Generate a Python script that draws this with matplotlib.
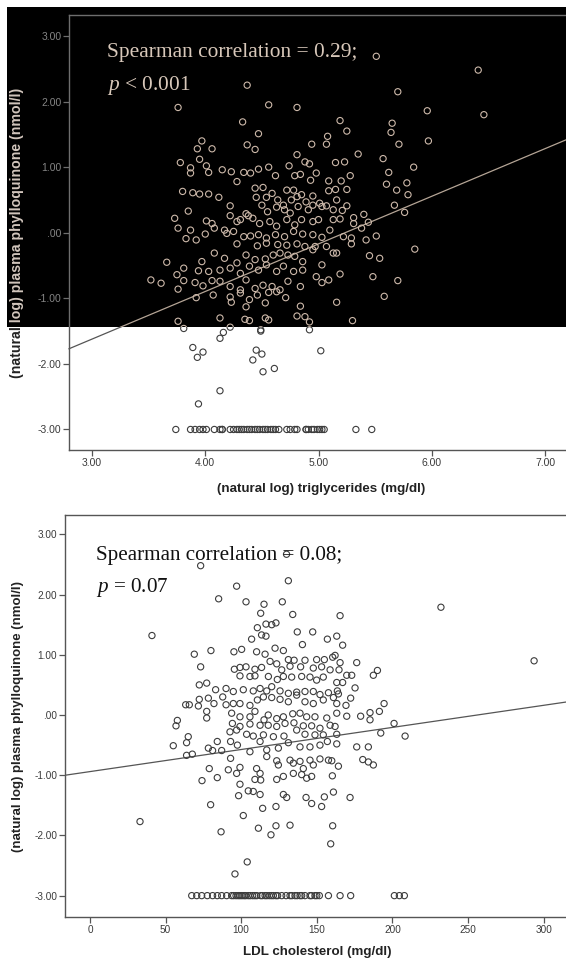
import matplotlib
matplotlib.use("Agg")
import matplotlib.pyplot as plt
from matplotlib.patches import Rectangle
import numpy as np

plt.rcParams['font.family'] = 'Liberation Sans'
plt.rcParams['mathtext.fontset'] = 'custom'
plt.rcParams['mathtext.it'] = 'Liberation Serif:italic'
plt.rcParams['mathtext.rm'] = 'Liberation Serif'

# ---- top panel: ln(triglycerides) vs ln(phylloquinone) ----
tg_pts = [
    (3.76, 1.91), (4.56, 1.95), (4.81, 1.91), (5.70, 2.15), (4.33, 1.69), (5.19, 1.71), (5.65, 1.67),
    (4.47, 1.51), (5.25, 1.55), (5.64, 1.53), (5.08, 1.47), (3.97, 1.40), (4.37, 1.34), (4.44, 1.27),
    (4.94, 1.35), (5.07, 1.35), (5.71, 1.35), (3.93, 1.28), (4.06, 1.28), (4.81, 1.19), (5.35, 1.20),
    (3.78, 1.07), (3.95, 1.12), (4.88, 1.08), (4.92, 1.05), (5.15, 1.07), (5.23, 1.08), (5.57, 1.13),
    (5.84, 1.00), (3.87, 0.99), (4.01, 1.02), (4.15, 0.96), (4.23, 0.93), (4.34, 0.92), (4.40, 0.91),
    (4.47, 0.97), (4.56, 1.00), (4.62, 0.87), (4.74, 1.02), (4.79, 0.87), (4.84, 0.89), (4.93, 0.80),
    (4.98, 0.91), (5.09, 0.79), (5.20, 0.79), (5.28, 0.87), (5.62, 0.92), (3.87, 0.91), (4.03, 0.92),
    (4.28, 0.78), (5.78, 0.76), (5.60, 0.74), (3.80, 0.63), (3.89, 0.61), (3.95, 0.59), (4.03, 0.59),
    (4.12, 0.54), (4.44, 0.68), (4.51, 0.69), (4.59, 0.60), (4.72, 0.65), (4.78, 0.65), (4.85, 0.58),
    (4.95, 0.56), (5.01, 0.45), (5.09, 0.64), (5.15, 0.66), (5.25, 0.66), (5.69, 0.65), (5.79, 0.58),
    (4.22, 0.41), (4.45, 0.54), (4.54, 0.54), (4.64, 0.50), (4.69, 0.42), (4.76, 0.50), (4.81, 0.55),
    (4.89, 0.47), (4.95, 0.42), (5.07, 0.41), (5.16, 0.50), (5.25, 0.41), (5.67, 0.42), (5.76, 0.31),
    (3.85, 0.33), (3.73, 0.22), (4.22, 0.26), (4.36, 0.29), (4.42, 0.22), (4.50, 0.42), (4.55, 0.32),
    (4.63, 0.39), (4.70, 0.35), (4.75, 0.30), (4.82, 0.40), (4.91, 0.35), (5.03, 0.40), (5.13, 0.35),
    (5.21, 0.34), (5.31, 0.23), (5.40, 0.28), (3.76, 0.07), (3.87, 0.04), (4.01, 0.18), (4.06, 0.14),
    (4.17, 0.04), (4.28, 0.17), (4.31, 0.20), (4.38, 0.26), (4.48, 0.14), (4.57, 0.17), (4.63, 0.10),
    (4.72, 0.20), (4.79, 0.12), (4.85, 0.20), (4.95, 0.17), (5.00, 0.20), (5.13, 0.20), (5.19, 0.21),
    (5.31, 0.14), (5.44, 0.16), (5.38, 0.07), (3.83, -0.09), (3.92, -0.11), (4.00, -0.02), (4.08, 0.07),
    (4.19, -0.01), (4.25, 0.02), (4.34, -0.06), (4.40, -0.05), (4.47, -0.03), (4.54, -0.08), (4.62, -0.03),
    (4.70, -0.06), (4.78, 0.02), (4.86, -0.02), (4.95, -0.03), (5.03, -0.07), (5.10, 0.04), (5.22, -0.06),
    (5.29, -0.08), (5.42, -0.11), (5.51, -0.05), (5.85, -0.25), (4.28, -0.17), (4.46, -0.20), (4.54, -0.16),
    (4.64, -0.18), (4.72, -0.19), (4.81, -0.17), (4.88, -0.21), (4.97, -0.21), (5.07, -0.21), (5.16, -0.31),
    (5.29, -0.17), (3.66, -0.45), (3.97, -0.44), (4.08, -0.31), (4.17, -0.39), (4.28, -0.46), (4.36, -0.34),
    (4.44, -0.41), (4.53, -0.40), (4.60, -0.34), (4.66, -0.31), (4.73, -0.34), (4.79, -0.36), (4.86, -0.44),
    (4.95, -0.26), (5.03, -0.49), (5.13, -0.31), (5.45, -0.35), (5.54, -0.39), (3.81, -0.54), (3.94, -0.58),
    (4.03, -0.59), (4.13, -0.57), (4.22, -0.54), (4.31, -0.62), (4.39, -0.51), (4.47, -0.57), (4.54, -0.49),
    (4.63, -0.59), (4.69, -0.51), (4.78, -0.59), (4.86, -0.57), (3.75, -0.64), (3.81, -0.73), (3.91, -0.76),
    (3.98, -0.81), (4.06, -0.73), (4.13, -0.74), (4.22, -0.82), (4.31, -0.87), (4.36, -0.72), (4.44, -0.85),
    (4.51, -0.80), (4.59, -0.82), (4.66, -0.87), (4.73, -0.74), (4.84, -0.82), (4.98, -0.67), (5.03, -0.76),
    (5.09, -0.72), (5.19, -0.63), (5.48, -0.67), (5.70, -0.73), (3.52, -0.72), (3.61, -0.77), (3.76, -0.86),
    (3.92, -0.99), (4.07, -0.95), (4.22, -0.98), (4.31, -0.92), (4.39, -1.02), (4.46, -0.95), (4.56, -0.91),
    (4.63, -0.90), (4.71, -0.99), (4.84, -1.12), (5.16, -1.06), (5.58, -0.97), (4.23, -1.06), (4.36, -1.13),
    (4.53, -1.07), (4.13, -1.30), (4.35, -1.32), (4.39, -1.34), (4.53, -1.30), (4.56, -1.33), (4.81, -1.27),
    (4.88, -1.28), (4.92, -1.36), (3.76, -1.35), (5.30, -1.34), (3.81, -1.46), (4.16, -1.52), (4.22, -1.44),
    (4.13, -1.61), (4.49, -1.50), (4.49, -1.48), (4.92, -1.48), (4.37, 2.25), (5.51, 2.69), (6.41, 2.48),
    (6.46, 1.80), (5.96, 1.86), (5.97, 1.40), (3.89, -1.75), (3.98, -1.82), (3.93, -1.90), (4.45, -1.79),
    (4.50, -1.85), (4.42, -1.94), (4.51, -2.12), (4.61, -2.07), (5.02, -1.80), (4.13, -2.41), (3.94, -2.61),
]
tg_floor_x = [3.74, 3.87, 3.91, 3.95, 3.98, 4.01, 4.08, 4.13, 4.15, 4.15, 4.22, 4.25, 4.28, 4.30, 4.32,
              4.34, 4.37, 4.39, 4.41, 4.44, 4.46, 4.48, 4.51, 4.53, 4.55, 4.58, 4.60, 4.62, 4.65, 4.72,
              4.75, 4.79, 4.81, 4.89, 4.89, 4.91, 4.94, 4.96, 4.99, 5.01, 5.03, 5.05, 5.33, 5.47]
tg_floor_y = -3.00
tg_fit = (-3.80, 0.726)          # intercept, slope
tg_xticks = [3.0, 4.0, 5.0, 6.0, 7.0]
tg_xticklabels = ['3.00', '4.00', '5.00', '6.00', '7.00']

# ---- bottom panel: LDL cholesterol vs ln(phylloquinone) ----
ldl_pts = [
    (73.2, 2.48), (131.2, 2.23), (97.0, 2.14), (85.1, 1.93), (103.2, 1.88), (115.1, 1.84), (127.2, 1.88),
    (112.9, 1.69), (134.1, 1.67), (165.4, 1.65), (116.4, 1.51), (120.2, 1.50), (123.0, 1.53), (110.7, 1.45),
    (113.5, 1.33), (116.4, 1.31), (137.1, 1.38), (147.3, 1.38), (157.0, 1.26), (163.2, 1.31), (106.9, 1.26),
    (140.5, 1.17), (167.1, 1.16), (41.0, 1.32), (80.0, 1.07), (69.0, 1.01), (95.2, 1.05), (100.3, 1.09),
    (110.2, 1.05), (115.8, 1.01), (122.4, 1.11), (127.9, 1.07), (135.0, 0.91), (131.2, 0.92), (142.2, 0.91),
    (149.9, 0.92), (155.0, 0.92), (160.5, 0.96), (162.1, 0.99), (165.4, 0.87), (176.4, 0.87), (73.2, 0.80),
    (95.5, 0.76), (99.2, 0.79), (103.2, 0.80), (109.1, 0.76), (113.5, 0.79), (119.1, 0.89), (123.5, 0.85),
    (126.8, 0.75), (132.3, 0.81), (139.3, 0.80), (147.7, 0.78), (153.2, 0.80), (158.8, 0.75), (164.7, 0.75),
    (169.8, 0.66), (173.1, 0.66), (187.4, 0.66), (190.1, 0.74), (99.2, 0.65), (105.8, 0.64), (109.1, 0.65),
    (118.0, 0.64), (123.9, 0.59), (127.9, 0.64), (133.4, 0.63), (140.0, 0.64), (145.5, 0.63), (149.9, 0.58),
    (154.3, 0.63), (163.2, 0.54), (167.1, 0.54), (175.3, 0.45), (72.3, 0.50), (77.2, 0.53), (83.1, 0.42),
    (90.0, 0.44), (94.8, 0.39), (101.4, 0.42), (108.0, 0.40), (112.5, 0.44), (116.9, 0.40), (120.2, 0.47),
    (125.7, 0.40), (131.2, 0.36), (136.7, 0.38), (142.2, 0.39), (147.7, 0.39), (152.1, 0.34), (157.7, 0.37),
    (163.6, 0.40), (164.3, 0.35), (172.4, 0.28), (63.3, 0.17), (65.7, 0.17), (71.7, 0.15), (72.3, 0.26),
    (78.3, 0.28), (82.0, 0.19), (87.8, 0.30), (90.0, 0.17), (94.8, 0.19), (99.2, 0.19), (105.8, 0.16),
    (110.7, 0.25), (114.7, 0.30), (120.2, 0.29), (125.7, 0.26), (131.2, 0.22), (136.7, 0.33), (142.2, 0.22),
    (147.7, 0.19), (154.3, 0.25), (161.0, 0.29), (163.2, 0.19), (169.3, 0.16), (194.5, 0.19), (77.2, 0.06),
    (77.2, -0.05), (93.7, 0.03), (99.2, -0.03), (105.8, -0.03), (109.1, 0.06), (115.1, -0.08), (117.9, 0.00),
    (123.5, -0.06), (127.9, -0.03), (134.1, 0.02), (138.9, 0.03), (143.3, -0.03), (148.8, -0.03),
    (156.6, -0.05), (163.2, 0.03), (169.8, -0.02), (179.0, -0.02), (185.2, 0.04), (191.4, 0.06),
    (57.8, -0.09), (56.9, -0.18), (94.2, -0.14), (99.2, -0.19), (105.8, -0.15), (112.5, -0.17),
    (117.9, -0.17), (123.5, -0.19), (129.0, -0.14), (134.9, -0.13), (141.1, -0.18), (146.6, -0.18),
    (152.1, -0.22), (158.8, -0.17), (162.1, -0.19), (185.2, -0.08), (201.1, -0.14), (65.0, -0.36),
    (63.9, -0.46), (92.6, -0.28), (97.0, -0.25), (103.6, -0.32), (108.0, -0.35), (114.7, -0.33),
    (121.3, -0.36), (128.3, -0.35), (136.7, -0.25), (142.2, -0.32), (148.8, -0.33), (154.3, -0.33),
    (163.2, -0.32), (192.3, -0.30), (208.4, -0.35), (55.1, -0.51), (67.7, -0.65), (78.3, -0.55),
    (81.1, -0.59), (84.2, -0.44), (87.1, -0.59), (93.0, -0.44), (97.5, -0.50), (105.8, -0.61),
    (112.5, -0.44), (116.9, -0.58), (124.6, -0.55), (131.2, -0.46), (138.9, -0.53), (145.5, -0.53),
    (152.1, -0.50), (157.0, -0.44), (163.2, -0.48), (176.4, -0.53), (184.1, -0.53), (63.9, -0.67),
    (93.0, -0.72), (116.9, -0.69), (123.5, -0.76), (132.3, -0.75), (138.9, -0.77), (145.5, -0.75),
    (152.1, -0.73), (159.9, -0.76), (180.4, -0.74), (187.4, -0.83), (184.1, -0.78), (78.9, -0.89),
    (91.5, -0.91), (97.0, -0.97), (99.2, -0.87), (110.2, -0.89), (112.5, -0.97), (124.6, -0.83),
    (134.5, -0.80), (141.1, -0.89), (147.7, -0.83), (157.7, -0.75), (164.3, -0.85), (74.1, -1.09),
    (84.2, -1.04), (99.2, -1.15), (109.1, -1.07), (112.9, -1.08), (123.5, -1.07), (127.9, -1.02),
    (134.5, -0.97), (140.0, -0.99), (143.3, -1.05), (146.6, -1.02), (160.3, -1.01), (98.3, -1.34),
    (104.7, -1.26), (108.0, -1.27), (112.5, -1.32), (127.9, -1.32), (130.1, -1.37), (142.9, -1.37),
    (146.6, -1.47), (153.2, -1.52), (155.0, -1.36), (161.0, -1.28), (172.0, -1.37), (79.8, -1.49),
    (114.2, -1.55), (123.0, -1.52), (101.4, -1.67), (86.7, -1.94), (111.4, -1.88), (119.7, -1.99),
    (123.0, -1.84), (132.3, -1.83), (160.5, -1.84), (33.1, -1.77), (104.0, -2.44), (95.9, -2.64),
    (159.2, -2.14), (232.1, 1.79), (293.7, 0.90), (130.0, 2.67),
]
ldl_floor_x = [67.3, 70.6, 73.9, 77.6, 81.1, 84.2, 87.1, 90.4, 93.7, 95.0, 96.6, 98.0, 99.2, 100.5, 101.9,
               103.0, 104.7, 106.0, 107.6, 109.0, 110.3, 112.9, 114.0, 115.8, 117.0, 118.6, 120.0, 121.3,
               123.0, 124.1, 126.8, 129.7, 132.3, 133.5, 135.6, 137.0, 138.9, 140.0, 142.2, 145.5, 146.5,
               148.8, 150.0, 151.7, 157.7, 165.4, 172.4, 201.3, 204.6, 207.9]
ldl_floor_y = -3.00
ldl_fit = (-0.94, 0.00367)
ldl_xticks = [0, 50, 100, 150, 200, 250, 300]

y_ticks = [3, 2, 1, 0, -1, -2, -3]
y_ticklabels = ['3.00', '2.00', '1.00', '.00', '-1.00', '-2.00', '-3.00']
ylab = '(natural log) plasma phylloquinone (nmol/l)'

W, H = 566, 959
fig = plt.figure(figsize=(W / 100, H / 100), dpi=100)

dark = dict(pt='#3c3c3c', line='#555555', spine='#555555', tick='#3a3a3a', lab='#222222')
light = dict(pt='#cdb9aa', line='#b5a596', spine='#6e6e6e', tick='#858585', lab='#d2c6bd')


def draw_panel(ax, pts, fx, fy, fit, xlim, ylim, xticks, xticklabels, xlabel, c, fs,
               xfs, yfs, xlab_pos, ylab_pos):
    px, py = np.array(pts).T
    ax.set_facecolor('none')
    ax.scatter(px, py, s=20, facecolors='none', edgecolors=c['pt'], linewidths=0.8, zorder=3)
    ax.scatter(fx, np.full(len(fx), fy), s=20, facecolors='none', edgecolors=c['pt'],
               linewidths=0.8, zorder=3)
    xs = np.array(xlim)
    ax.plot(xs, fit[0] + fit[1] * xs, color=c['line'], lw=0.9, zorder=2)
    ax.set_xlim(xlim)
    ax.set_ylim(ylim)
    ax.set_xticks(xticks)
    ax.set_xticklabels(xticklabels)
    ax.set_yticks(y_ticks)
    ax.set_yticklabels(y_ticklabels)
    ax.spines['right'].set_visible(False)
    for s in ('left', 'top', 'bottom'):
        ax.spines[s].set_color(c['spine'])
        ax.spines[s].set_linewidth(1.0)
    ax.tick_params(direction='out', length=4, width=0.9, color=c['spine'],
                   labelcolor=c['tick'], labelsize=fs, pad=1.5)
    ax.set_xlabel(xlabel, fontsize=xfs, fontweight='bold', color=c['lab'])
    ax.set_ylabel(ylab, fontsize=yfs, fontweight='bold', color=c['lab'])
    ax.xaxis.set_label_coords(*xlab_pos)
    ax.yaxis.set_label_coords(*ylab_pos)


# black block over the upper part of the first panel
blk = Rectangle((7 / W, 1 - 327 / H), 1 - 7 / W, 320 / H, transform=fig.transFigure,
                facecolor='black', edgecolor='none', zorder=-1)
fig.add_artist(blk)
in_blk = Rectangle((7 / W, 1 - 327 / H), 1, 320 / H, transform=fig.transFigure)
out_blk = Rectangle((0, 0), 1, 1 - 327 / H, transform=fig.transFigure)

top_rect = [69 / W, 1 - 450 / H, 1 - 69 / W, 435 / H]
top_args = (tg_pts, tg_floor_x, tg_floor_y, tg_fit, (2.797, 7.185), (-3.313, 3.32),
            tg_xticks, tg_xticklabels, '(natural log) triglycerides (mg/dl)')
top_style = (7.5, 9.6, 10.2, (0.507, -0.076), (-0.09, 0.50))
ax_d = fig.add_axes(top_rect)
draw_panel(ax_d, *top_args, dark, *top_style)
ax_l = fig.add_axes(top_rect)
draw_panel(ax_l, *top_args, light, *top_style)

ax2 = fig.add_axes([65 / W, 1 - 917 / H, 1 - 65 / W, 402 / H])
draw_panel(ax2, ldl_pts, ldl_floor_x, ldl_floor_y, ldl_fit, (-16.5, 314.8), (-3.355, 3.322),
           ldl_xticks, [str(v) for v in ldl_xticks], 'LDL cholesterol (mg/dl)', dark,
           7.2, 9.6, 9.5, (0.503, -0.071), (-0.082, 0.50))

fig.canvas.draw()
for ax, clip in ((ax_d, out_blk), (ax_l, in_blk)):
    for art in ax.findobj():
        if art is ax or art is ax.patch:
            continue
        art.set_clip_path(clip)

serif = 'Liberation Serif'
fig.text(107 / W, 1 - 57 / H, 'Spearman correlation = 0.29;', family=serif, fontsize=15.4,
         color='#d8c8ba', va='baseline')
fig.text(107 / W, 1 - 90 / H, r'$p$ < 0.001', family=serif, fontsize=15.4,
         color='#d8c8ba', va='baseline')
fig.text(96 / W, 1 - 560 / H, 'Spearman correlation = 0.08;', family=serif, fontsize=15.2,
         color='#111111', va='baseline')
fig.text(96 / W, 1 - 592 / H, r'$p$ = 0.07', family=serif, fontsize=15.2,
         color='#111111', va='baseline')

fig.savefig('out.png', dpi=100)
